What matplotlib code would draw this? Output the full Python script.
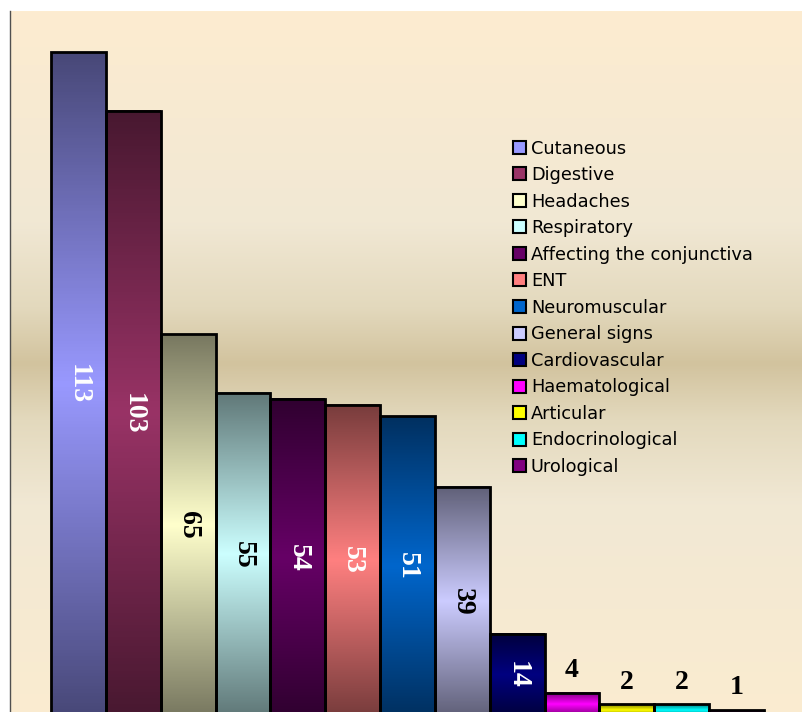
import numpy as np
import matplotlib
matplotlib.use('Agg')
import matplotlib.pyplot as plt
from matplotlib.colors import to_rgb, LinearSegmentedColormap
from matplotlib.patches import Patch

categories = ['Cutaneous', 'Digestive', 'Headaches', 'Respiratory',
              'Affecting the conjunctiva', 'ENT', 'Neuromuscular',
              'General signs', 'Cardiovascular', 'Haematological',
              'Articular', 'Endocrinological', 'Urological']
values = [113, 103, 65, 55, 54, 53, 51, 39, 14, 4, 2, 2, 1]
colors = ['#9999ff', '#993366', '#ffffcc', '#ccffff', '#660066', '#ff8080',
          '#0066cc', '#ccccff', '#000080', '#ff00ff', '#ffff00', '#00ffff',
          '#800080']

fig = plt.figure(figsize=(8.02, 7.12), dpi=100)
ax = fig.add_axes([10 / 802, -4 / 712, 795 / 802, 705 / 712])
ax.set_xlim(-1.25, len(values) - 1 + 1.25)
ax.set_ylim(0, 120)

# background gradient (light peach -> tan band in the middle -> light)
bg = LinearSegmentedColormap.from_list('bg', [
    (0.0, '#fdecd0'), (0.3, '#f1e8d4'), (0.42, '#e3d9bd'), (0.5, '#d2c39e'),
    (0.58, '#e3d9bd'), (0.7, '#f1e8d4'), (1.0, '#fbecd0')])
ax.imshow(np.linspace(0, 1, 256).reshape(-1, 1), cmap=bg, aspect='auto',
          extent=[-1.25, len(values) + 0.25, 0, 120], zorder=0)

# bars with a dark-light-dark vertical gradient
t = np.linspace(0, 1, 200)
shade = 0.47 + 0.53 * (1 - np.abs(2 * t - 1))
for i, (v, c) in enumerate(zip(values, colors)):
    rgb = np.array(to_rgb(c))
    img = shade[:, None, None] * rgb[None, None, :]
    ax.imshow(img, aspect='auto', extent=[i - 0.5, i + 0.5, 0, v], zorder=2)
ax.bar(range(len(values)), values, width=1.0, facecolor='none',
       edgecolor='black', linewidth=2, zorder=3)

for i, (v, c) in enumerate(zip(values, colors)):
    r, g, b = to_rgb(c)
    lum = 0.299 * r + 0.587 * g + 0.114 * b
    tc = 'black' if lum > 0.7 else 'white'
    if v >= 10:
        ax.text(i, v / 2, str(v), rotation=270, ha='center', va='center',
                color=tc, fontsize=20, fontweight='bold',
                family='Liberation Serif', zorder=4)
    else:
        ax.annotate(str(v), (i, v), xytext=(0, 7), textcoords='offset points',
                    ha='center', va='bottom', color='black', fontsize=20,
                    fontweight='bold', family='Liberation Serif', zorder=4)

ax.set_xticks([])
ax.set_yticks([])
for s in ['top', 'right', 'bottom']:
    ax.spines[s].set_visible(False)
ax.spines['left'].set_color('#505050')
ax.spines['left'].set_linewidth(1)

handles = [Patch(facecolor=c, edgecolor='black', linewidth=1.5) for c in colors]
fig.legend(handles, categories, loc='upper left',
           bbox_to_anchor=(513 / 802, 1 - 139.5 / 712), frameon=False,
           fontsize=12.8, handlelength=0.75, handleheight=0.75,
           handletextpad=0.25, labelspacing=0.48, borderpad=0,
           borderaxespad=0)

fig.savefig('out.png', dpi=100)
